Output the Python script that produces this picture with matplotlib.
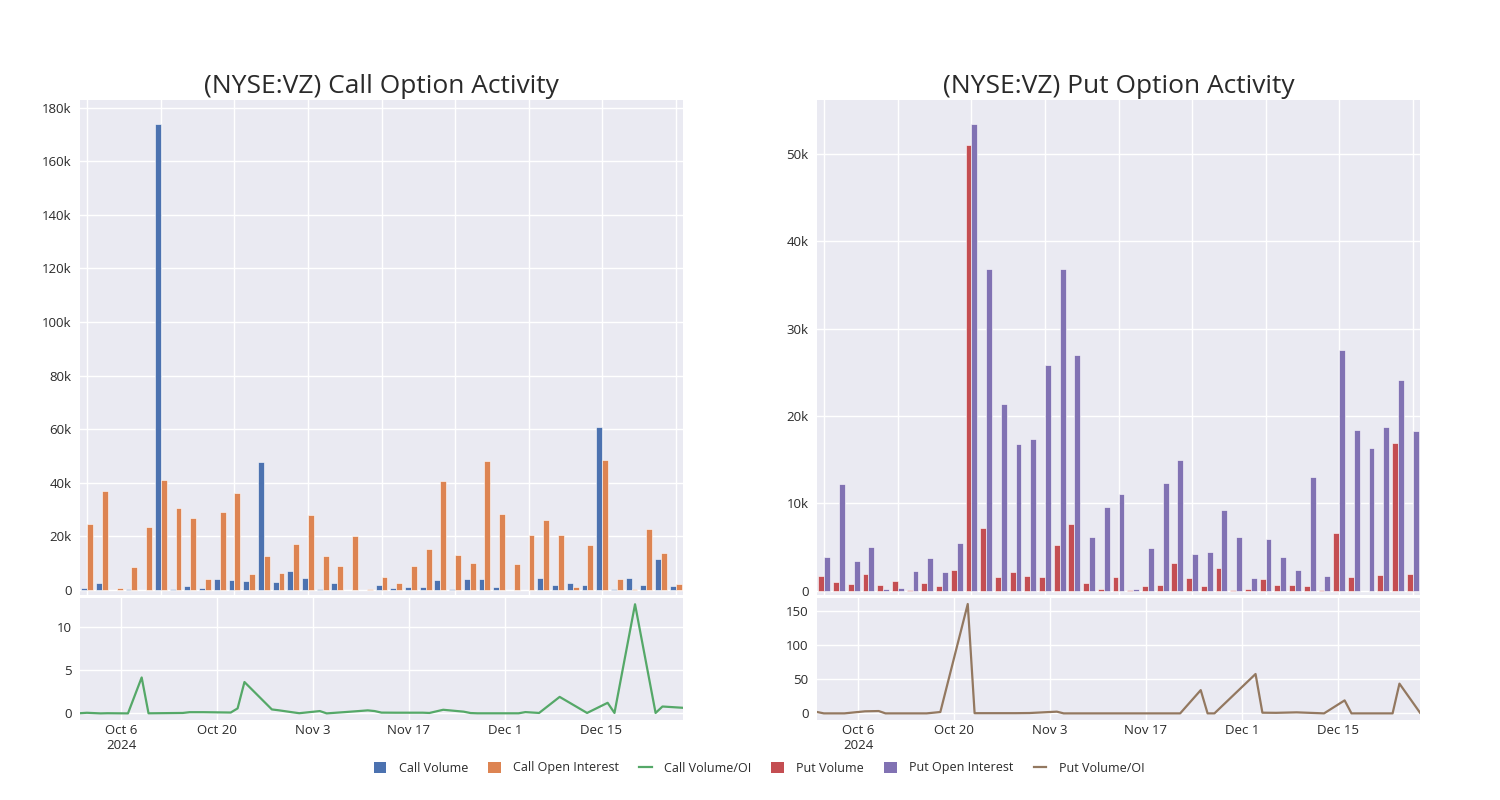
import pandas as pd
import matplotlib.pyplot as plt
from matplotlib.patches import Patch
from matplotlib.lines import Line2D
from matplotlib.ticker import FuncFormatter

plt.rcParams['font.family'] = ['Open Sans', 'DejaVu Sans']

# trading days that have data
dates = pd.to_datetime([
    '2024-09-30', '2024-10-01', '2024-10-03', '2024-10-04', '2024-10-07',
    '2024-10-09', '2024-10-10', '2024-10-15', '2024-10-16', '2024-10-18',
    '2024-10-22', '2024-10-23', '2024-10-24', '2024-10-28', '2024-10-29',
    '2024-10-31', '2024-11-01', '2024-11-04', '2024-11-05', '2024-11-08',
    '2024-11-11', '2024-11-12', '2024-11-13', '2024-11-15', '2024-11-19',
    '2024-11-20', '2024-11-22', '2024-11-25', '2024-11-26', '2024-11-27',
    '2024-12-03', '2024-12-04', '2024-12-06', '2024-12-09', '2024-12-13',
    '2024-12-16', '2024-12-17', '2024-12-20', '2024-12-23', '2024-12-24',
    '2024-12-27',
])

call_volume = [600, 2500, 50, 250, 100, 173700, 250, 1600, 600, 4000,
               3700, 3500, 47600, 3000, 7200, 4300, 400, 2500, 100, 60,
               1740, 750, 1100, 1250, 3900, 500, 4200, 4200, 1250, 100,
               100, 4300, 1750, 2600, 2000, 60700, 200, 4600, 1750, 11400,
               1400]
call_oi = [24700, 36900, 900, 8750, 23400, 41200, 30700, 26700, 4200, 29200,
           36100, 5800, 12800, 6300, 17100, 27900, 12700, 8900, 20000, 400,
           5000, 2750, 9100, 15300, 40600, 13000, 10000, 48200, 28200, 9800,
           20500, 26000, 20500, 1250, 16800, 48600, 4000, 360, 22700, 13700,
           2200]
call_ratio = [0.02, 0.07, 0.0, 0.02, 0.0, 4.18, 0.01, 0.05, 0.14, 0.14,
              0.1, 0.58, 3.65, 0.46, 0.36, 0.13, 0.02, 0.27, 0.0, 0.17,
              0.35, 0.27, 0.09, 0.08, 0.08, 0.05, 0.42, 0.2, 0.04, 0.01,
              0.01, 0.15, 0.05, 1.92, 0.05, 1.23, 0.05, 12.7, 0.05, 0.8,
              0.65]

put_volume = [1640, 1030, 800, 1870, 690, 1070, 50, 920, 570, 2330,
              51100, 7200, 1600, 2140, 1720, 1530, 5190, 7670, 920, 200,
              1530, 50, 500, 690, 3200, 1450, 500, 2630, 100, 230,
              1340, 610, 690, 570, 100, 6640, 1600, 0, 1830, 16900,
              1900]
put_oi = [3850, 12200, 3430, 4960, 200, 270, 2250, 3700, 2140, 5420,
          53400, 36900, 21400, 16800, 17400, 25800, 36800, 27000, 6100, 9600,
          11100, 150, 4850, 12300, 15000, 4160, 4430, 9270, 6150, 1450,
          5880, 3820, 2330, 13000, 1640, 27600, 18400, 16300, 18700, 24100,
          18300]
put_ratio = [2.0, 0.0, 0.0, 0.0, 3.0, 3.4, 0.0, 0.0, 0.0, 2.0,
             160.0, 0.3, 0.3, 0.3, 0.3, 0.5, 1.0, 2.5, 0.0, 0.0,
             0.0, 0.0, 0.0, 0.0, 0.0, 0.0, 0.0, 34.0, 0.0, 0.0,
             57.6, 1.0, 0.8, 1.5, 0.0, 19.0, 0.0, 0.0, 0.0, 43.5,
             1.0]

BG = '#EAEAF2'
C_BLUE, C_ORANGE, C_GREEN = '#4C72B0', '#DD8452', '#55A868'
C_RED, C_PURPLE, C_BROWN = '#C44E52', '#8172B3', '#937860'
TXT = '#2a2a2a'


def kfmt(v, _):
    if v == 0:
        return '0'
    return f'{v / 1000:.0f}k'


def style(ax):
    ax.set_facecolor(BG)
    for s in ax.spines.values():
        s.set_visible(False)
    ax.grid(True, color='white', linewidth=1.0)
    ax.set_axisbelow(True)
    ax.tick_params(length=0, labelsize=9.5, colors=TXT, pad=6)


def panel(left, title, vol, oi, ratio, c1, c2, c3, ylim_top, ylim_bot, bticks):
    w = 603 / 1500
    ax = fig.add_axes([left, 1 - 595 / 800, w, 495 / 800])
    axb = fig.add_axes([left, 80 / 800, w, 122 / 800])
    style(ax)
    style(axb)

    idx = list(range(len(dates)))
    ax.bar([i - 0.2 for i in idx], vol, width=0.4, color=c1, edgecolor='white', linewidth=0.4)
    ax.bar([i + 0.2 for i in idx], oi, width=0.4, color=c2, edgecolor='white', linewidth=0.4)
    ax.set_xlim(-0.5, len(dates) - 0.5)
    ax.set_xticks(range(0, len(dates), 5))
    ax.set_xticklabels([])
    ax.set_ylim(*ylim_top)
    ax.yaxis.set_major_formatter(FuncFormatter(kfmt))
    ax.set_title(title, fontsize=19, color=TXT, pad=5)

    axb.plot(dates, ratio, color=c3, linewidth=1.6)
    axb.set_xlim(dates[0], dates[-1])
    axb.set_ylim(*ylim_bot)
    axb.set_yticks(bticks)
    ticks = pd.date_range('2024-10-06', '2024-12-27', freq='14D')
    axb.set_xticks(ticks)
    labels = [f'{d:%b} {d.day}' for d in ticks]
    labels[0] += '\n2024'
    axb.set_xticklabels(labels)
    axb.tick_params(axis='x', pad=3)
    return ax, axb


fig = plt.figure(figsize=(15, 8), dpi=100)
fig.patch.set_facecolor('white')

ax1, ax1b = panel(80 / 1500, '(NYSE:VZ) Call Option Activity', call_volume, call_oi, call_ratio,
                  C_BLUE, C_ORANGE, C_GREEN, (-1870, 182800), (-0.77, 13.43), [0, 5, 10])
ax1.set_yticks(range(0, 180001, 20000))
ax2, ax2b = panel(817 / 1500, '(NYSE:VZ) Put Option Activity', put_volume, put_oi, put_ratio,
                  C_RED, C_PURPLE, C_BROWN, (-490, 56200), (-9.7, 168.8), [0, 50, 100, 150])
ax2.set_yticks(range(0, 50001, 10000))

handles = [
    Patch(facecolor=C_BLUE, label='Call Volume'),
    Patch(facecolor=C_ORANGE, label='Call Open Interest'),
    Line2D([], [], color=C_GREEN, linewidth=1.6, label='Call Volume/OI'),
    Patch(facecolor=C_RED, label='Put Volume'),
    Patch(facecolor=C_PURPLE, label='Put Open Interest'),
    Line2D([], [], color=C_BROWN, linewidth=1.6, label='Put Volume/OI'),
]
fig.legend(handles=handles, loc='center', bbox_to_anchor=(0.506, 1 - 768 / 800), ncol=6,
           frameon=False, fontsize=9, handlelength=1.0, handleheight=1.0,
           columnspacing=1.6, handletextpad=1.0, labelcolor=TXT)

fig.savefig('out.png', dpi=100, facecolor='white')
